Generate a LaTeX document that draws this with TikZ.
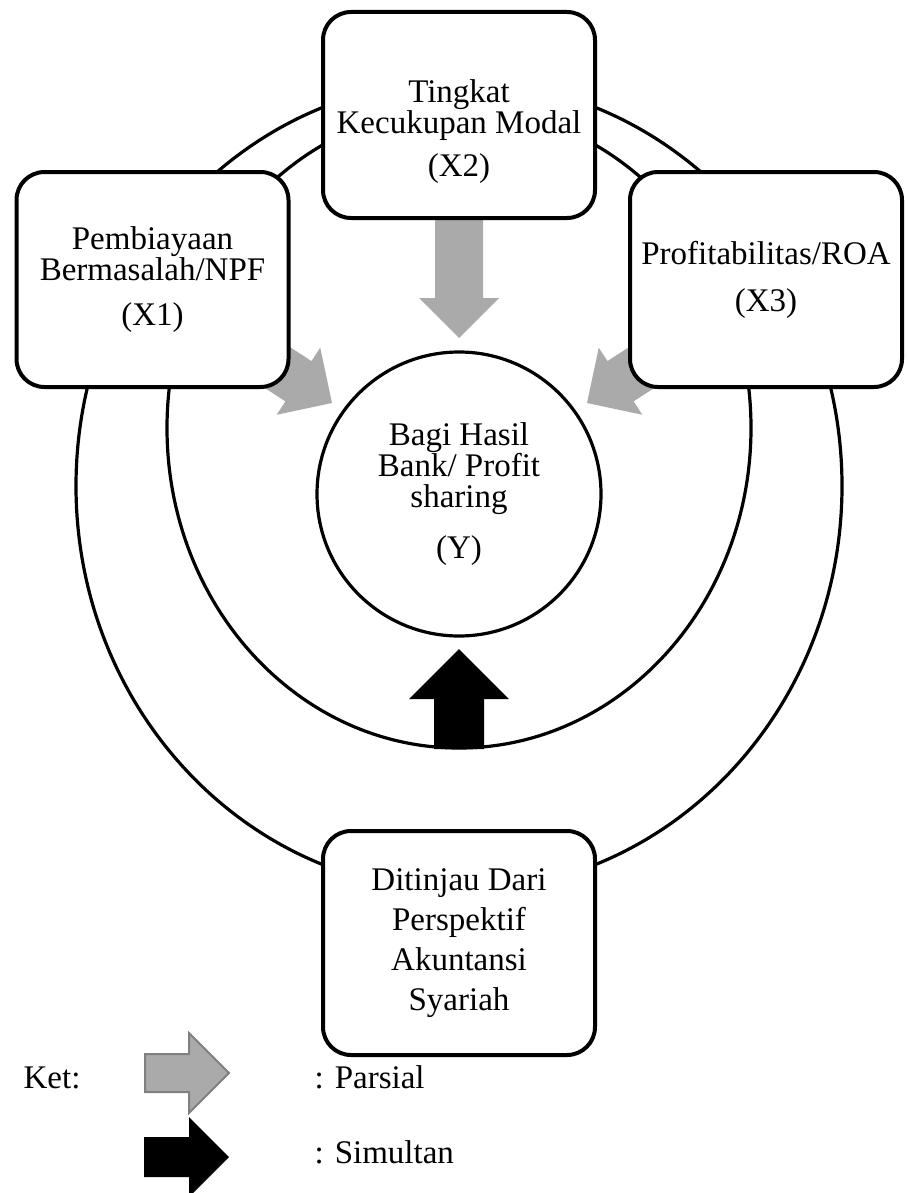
\documentclass[tikz,border=0pt]{standalone}
\usepackage{fontspec}
\setmainfont{Liberation Serif}
\usetikzlibrary{positioning}
\definecolor{abu}{RGB}{170,170,170}
\definecolor{abutua}{RGB}{128,128,128}

\begin{document}
\begin{tikzpicture}[x=0.5pt, y=-0.5pt, font=\fontsize{16.5}{15.5}\selectfont, line width=1.6pt]
  \tikzstyle{kotak}=[draw, fill=white, rounded corners=14pt, line width=2pt, minimum width=136pt, align=center, inner sep=0pt]
  \tikzstyle{parsial}=[fill=abu]
  \tikzstyle{ket}=[anchor=base west, inner sep=0pt]
  \useasboundingbox (0,0) rectangle (909,1193);
  % lingkaran luar dan tengah
  \draw (459,486) ellipse [x radius=191.5pt, y radius=202.5pt];
  \draw (459,428) ellipse [x radius=146pt, y radius=160pt];
  % panah parsial
  \foreach \px/\py/\r in {459/338/-90, 332/403/-33, 587/403/-147}
    \fill[parsial, shift={(\px,\py)}, rotate=\r] (0,0) -- (-40,40) -- (-40,24) -- (-120,24) -- (-120,-24) -- (-40,-24) -- (-40,-40) -- cycle;
  % panah simultan
  \fill[shift={(459,649)}, rotate=90] (0,0) -- (-50,50) -- (-50,25) -- (-100,25) -- (-100,-25) -- (-50,-25) -- (-50,-50) -- cycle;
  \node[kotak, minimum height=107.5pt] (x1) at (152.5,279.5) {Pembiayaan\\Bermasalah/NPF\\[7pt](X1)};
  \node[kotak, minimum height=103pt] (x2) at (459,115) {\rule{0pt}{28pt}Tingkat\\Kecukupan Modal\\[6pt](X2)};
  \node[kotak, minimum height=107.5pt] (x3) at (766,279.5) {Profitabilitas/ROA\\[8pt](X3)};
  \node[kotak, minimum height=112pt, font=\fontsize{16.5}{20}\selectfont] (tinjau) at (459,943) {Ditinjau Dari\\Perspektif\\Akuntansi\\Syariah};
  \node[circle, draw, fill=white, minimum size=142pt, align=center, inner sep=0pt] (y) at (459,494) {Bagi Hasil\\Bank/ Profit\\sharing\\[10pt](Y)};
  % keterangan
  \node[ket] (ketlabel) at (22,1088) {Ket:};
  \filldraw[fill=abu, draw=abutua, line width=1pt, shift={(229,1073)}] (0,0) -- (-40,40) -- (-40,19) -- (-84,19) -- (-84,-19) -- (-40,-19) -- (-40,-40) -- cycle;
  \node[ket] (parsial) at (313,1088) {: Parsial};
  \fill[shift={(229,1157)}] (0,0) -- (-40,40) -- (-40,20) -- (-85,20) -- (-85,-20) -- (-40,-20) -- (-40,-40) -- cycle;
  \node[ket] (simultan) at (313,1163) {: Simultan};
\end{tikzpicture}
\end{document}
